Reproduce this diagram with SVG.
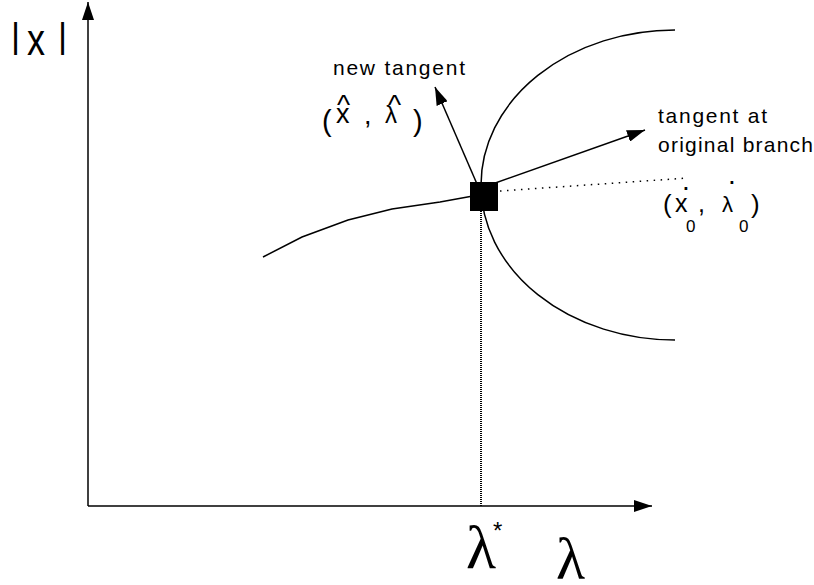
<svg xmlns="http://www.w3.org/2000/svg" width="814" height="585" viewBox="0 0 814 585">
<defs>
<style>
.ln{fill:none;stroke:#000;stroke-width:1.5}
.sans{font-family:"Liberation Sans",Arial,sans-serif;fill:#000}
.serif{font-family:"Liberation Serif","Times New Roman",serif;fill:#000}
</style>
<marker id="ah" viewBox="0 0 18 12" refX="18" refY="6" markerUnits="userSpaceOnUse" markerWidth="18" markerHeight="12" orient="auto">
<path d="M0,0 L18,6 L0,12 z" fill="#000"/>
</marker>
</defs>
<rect width="814" height="585" fill="#fff"/>
<g id="connectors">
<line class="ln" x1="88" y1="506" x2="88" y2="2" marker-end="url(#ah)"/>
<line class="ln" x1="88" y1="506" x2="652" y2="506" marker-end="url(#ah)"/>
<line x1="481" y1="211" x2="481" y2="506" stroke="#000" stroke-width="2" stroke-dasharray="1 1"/>
<line x1="500" y1="191" x2="688" y2="178" stroke="#000" stroke-width="1.5" stroke-dasharray="1.5 5.5"/>
<polyline class="ln" points="263,257 302,237 348,220 392,209 440,202 484,194"/>
<path class="ln" d="M481,185 A194,155 0 0 1 675,30"/>
<path class="ln" d="M481,185 A194,155 0 0 0 675,340"/>
<line class="ln" x1="484" y1="187" x2="645" y2="130" marker-end="url(#ah)"/>
<line class="ln" x1="477" y1="184" x2="435" y2="87" marker-end="url(#ah)"/>
</g>
<g id="point">
<rect x="470" y="182" width="28" height="29" fill="#000"/>
</g>
<g id="label-yaxis">
<text class="sans" x="11" y="48" font-size="35">|</text>
<text class="sans" x="27" y="55" font-size="44" textLength="18" lengthAdjust="spacingAndGlyphs">x</text>
<text class="sans" x="58" y="48" font-size="35">|</text>
</g>
<g id="label-new-tangent">
<text class="sans" x="333" y="75" font-size="21" textLength="132" lengthAdjust="spacing">new tangent</text>
<text class="sans" x="322" y="131" font-size="29">(</text>
<text class="sans" x="336" y="123" font-size="27">x</text>
<text class="sans" x="337" y="114" font-size="28">^</text>
<text class="sans" x="364" y="124" font-size="27">,</text>
<text class="sans" x="385" y="123" font-size="24">λ</text>
<text class="sans" x="388" y="114" font-size="28">^</text>
<text class="sans" x="413" y="131" font-size="29">)</text>
</g>
<g id="label-tangent-original">
<text class="sans" x="658" y="123" font-size="21" textLength="109" lengthAdjust="spacing">tangent at</text>
<text class="sans" x="658" y="152" font-size="21" textLength="155" lengthAdjust="spacing">original branch</text>
</g>
<g id="label-x0">
<text class="sans" x="663" y="213" font-size="26">(</text>
<text class="sans" x="675" y="212" font-size="25">x</text>
<text class="sans" x="682" y="190" font-size="28">.</text>
<text class="sans" x="686" y="232" font-size="17">0</text>
<text class="sans" x="698" y="212" font-size="25">,</text>
<text class="sans" x="722" y="212" font-size="22">λ</text>
<text class="sans" x="728" y="184" font-size="28">.</text>
<text class="sans" x="739" y="232" font-size="17">0</text>
<text class="sans" x="751" y="213" font-size="26">)</text>
</g>
<g id="label-lambda-star">
<text class="serif" x="466" y="568" font-size="62">λ</text>
<text class="sans" x="493" y="539" font-size="24">*</text>
</g>
<g id="label-lambda">
<text class="serif" x="556" y="579" font-size="60">λ</text>
</g>
</svg>
